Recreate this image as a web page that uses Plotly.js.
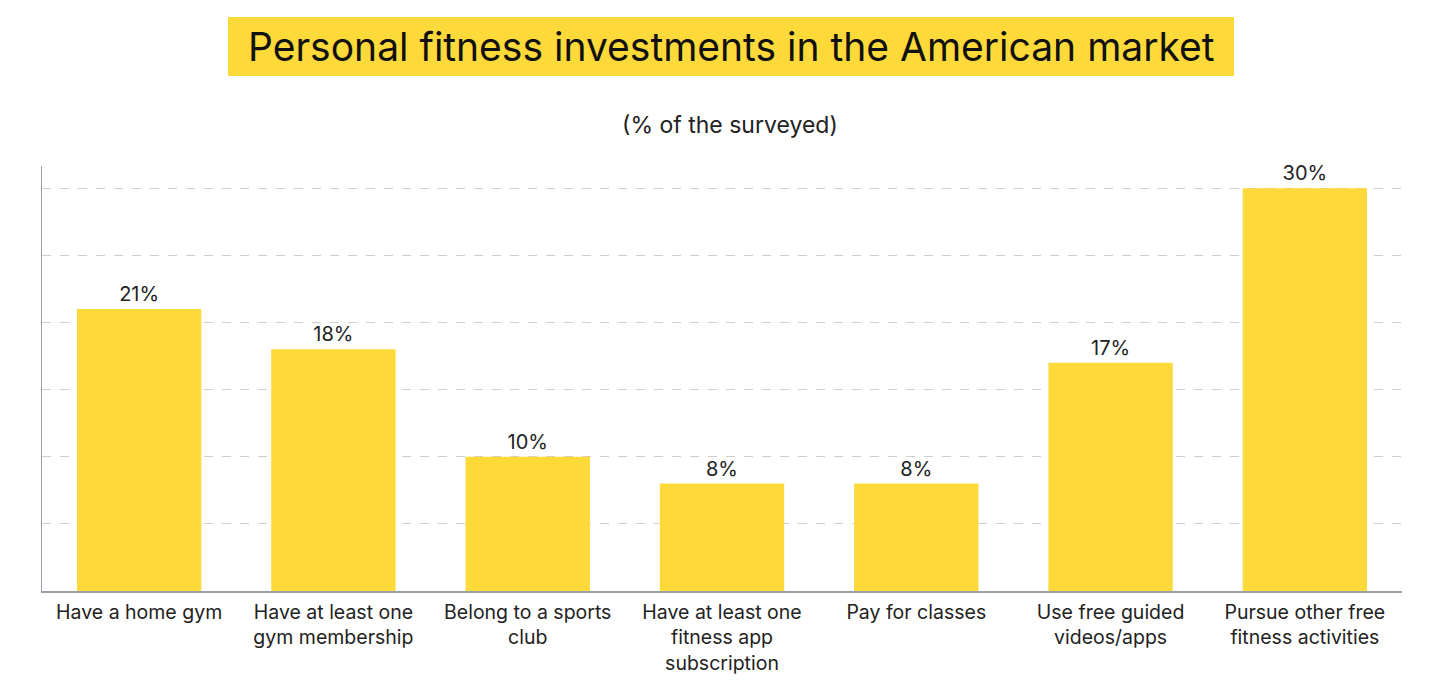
<!DOCTYPE html>
<html>
<head>
<meta charset="utf-8">
<script src="https://cdn.plot.ly/plotly-3.0.1.min.js"></script>
<style>html,body{margin:0;padding:0;background:#fff;}#chart{width:1455px;height:694px;}</style>
</head>
<body>
<div id="chart"></div>
<script>
const categories = [
  "Have a home gym",
  "Have at least one<br>gym membership",
  "Belong to a sports<br>club",
  "Have at least one<br>fitness app<br>subscription",
  "Pay for classes",
  "Use free guided<br>videos/apps",
  "Pursue other free<br>fitness activities"
];
const values = [21, 18, 10, 8, 8, 17, 30];
const valueLabels = ["21%", "18%", "10%", "8%", "8%", "17%", "30%"];
const titleText = "Personal fitness investments in the American market";
const subtitleText = "(% of the surveyed)";

const FONT = "Inter, 'Noto Sans', sans-serif";
const PW = 1360, PH = 425, ML = 42, MT = 166;
const px = v => (v - ML) / PW;
const py = v => 1 - (v - MT) / PH;

const trace = {
  type: "bar",
  x: categories,
  y: values,
  text: valueLabels,
  textposition: "outside",
  textfont: {family: FONT, size: 20, color: "#222"},
  cliponaxis: false,
  marker: {color: "#FDD93A"},
  hoverinfo: "skip"
};

const layout = {
  width: 1455, height: 694,
  margin: {l: ML, r: 1455 - ML - PW, t: MT, b: 694 - MT - PH},
  paper_bgcolor: "#fff", plot_bgcolor: "#fff",
  font: {family: FONT, color: "#222"},
  showlegend: false,
  bargap: 0.36,
  xaxis: {
    type: "category",
    showline: true, linecolor: "#9aa0a8", linewidth: 1.5,
    showgrid: false, ticks: "",
    ticklabelstandoff: 3,
    tickfont: {family: FONT, size: 19.5, color: "#222"},
    fixedrange: true
  },
  yaxis: {
    range: [0, 31.65], dtick: 5, tick0: 0,
    showticklabels: false, ticks: "",
    showgrid: true, gridcolor: "#cfcfcf", griddash: "dash", gridwidth: 1,
    showline: true, linecolor: "#9aa0a8", linewidth: 1.5,
    zeroline: false,
    fixedrange: true
  },
  shapes: [
    {
      type: "rect", xref: "paper", yref: "paper", layer: "below",
      x0: px(228), x1: px(1234), y0: py(76), y1: py(17),
      fillcolor: "#FDD93A", line: {width: 0}
    }
  ],
  annotations: [
    {
      text: titleText, xref: "paper", yref: "paper",
      x: px(731), xanchor: "center", y: py(46.5), yanchor: "middle",
      showarrow: false,
      font: {family: FONT, size: 39, color: "#111"}
    },
    {
      text: subtitleText, xref: "paper", yref: "paper",
      x: px(730), xanchor: "center", y: py(125), yanchor: "middle",
      showarrow: false,
      font: {family: FONT, size: 23, color: "#222"}
    }
  ]
};

Plotly.newPlot("chart", [trace], layout, {displayModeBar: false, staticPlot: true});
</script>
</body>
</html>
